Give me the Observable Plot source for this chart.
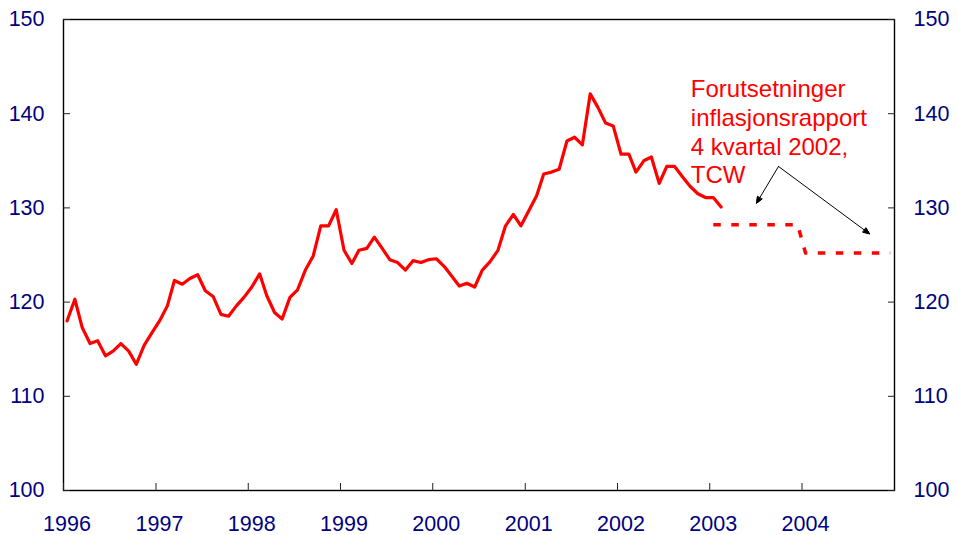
<!DOCTYPE html>
<html>
<head>
<meta charset="utf-8">
<script src="https://cdn.jsdelivr.net/npm/d3@7"></script>
<script src="https://cdn.jsdelivr.net/npm/@observablehq/plot@0.6"></script>
<style>
  html, body { margin: 0; padding: 0; background: #fff; }
  #chart { width: 957px; height: 535px; }
</style>
</head>
<body>
<div id="chart"></div>
<script>
// Monthly TCW index, Jan 1996 – Feb 2003
const startYear = 1996;
const tcw = [
  118.0, 120.3, 117.3, 115.6, 115.9, 114.3, 114.8, 115.6, 114.8, 113.4, 115.4, 116.7,
  118.0, 119.6, 122.3, 121.9, 122.5, 122.9, 121.2, 120.6, 118.7, 118.5, 119.6, 120.5,
  121.6, 123.0, 120.7, 118.9, 118.2, 120.5, 121.3, 123.4, 124.9, 128.1, 128.1, 129.8,
  125.5, 124.1, 125.5, 125.7, 126.9, 125.7, 124.5, 124.2, 123.4, 124.4, 124.2, 124.5,
  124.6, 123.8, 122.8, 121.7, 122.0, 121.6, 123.4, 124.3, 125.5, 128.1, 129.3, 128.1,
  129.7, 131.3, 133.6, 133.8, 134.1, 137.1, 137.5, 136.7, 142.1, 140.7, 139.0, 138.7,
  135.7, 135.7, 133.8, 135.0, 135.4, 132.6, 134.4, 134.4, 133.3, 132.3, 131.5, 131.1,
  131.1, 130.1
];
// Assumptions, Inflation report 4/2002: Jan 2003 – Dec 2004
const forecastStartYear = 2003;
const forecast = [
  128.2, 128.2, 128.2, 128.2, 128.2, 128.2, 128.2, 128.2, 128.2, 128.2, 128.2, 128.2,
  125.2, 125.2, 125.2, 125.2, 125.2, 125.2, 125.2, 125.2, 125.2, 125.2, 125.2, 125.2
];
const yearTicks = [1996, 1997, 1998, 1999, 2000, 2001, 2002, 2003, 2004];
const yTicks = [100, 110, 120, 130, 140, 150];
const annotationLines = ["Forutsetninger", "inflasjonsrapport", "4 kvartal 2002,", "TCW"];
const annotationAt = {date: [2002, 9, 18], value: 143.95};
const arrowFrom = {date: [2003, 8, 30], value: 134.4};
const arrowTargets = [
  {date: [2003, 6, 5], value: 130.5},
  {date: [2004, 8, 24], value: 127.25}
];

const monthDate = (y0, i) => new Date(Date.UTC(y0 + Math.floor(i / 12), i % 12, 15));
const toDate = a => new Date(Date.UTC(a[0], a[1], a[2]));
const actual = tcw.map((v, i) => ({date: monthDate(startYear, i), value: v}));
const fc = forecast.map((v, i) => ({date: monthDate(forecastStartYear, i), value: v}));
const arrows = arrowTargets.map(t => ({
  x1: toDate(arrowFrom.date), y1: arrowFrom.value, x2: toDate(t.date), y2: t.value
}));
const navy = "#000080";
const tickDates = yearTicks.map(y => new Date(Date.UTC(y, 0, 1)));

const chart = Plot.plot({
  width: 957,
  height: 535,
  marginLeft: 63,
  marginRight: 63,
  marginTop: 19,
  marginBottom: 45,
  style: {fontFamily: "Arial, 'Liberation Sans', sans-serif", fontSize: "21.5px", background: "white", overflow: "visible"},
  x: {type: "utc", domain: [new Date(Date.UTC(1996, 0, 1)), new Date(Date.UTC(2005, 0, 1))]},
  y: {domain: [100, 150]},
  marks: [
    Plot.frame({stroke: "black", strokeWidth: 1.4}),
    Plot.axisX({anchor: "bottom", ticks: tickDates, text: null, tickSize: -7, stroke: "#222"}),
    Plot.axisX({anchor: "bottom", ticks: tickDates, tickFormat: d3.utcFormat("%Y"), tickSize: 0, tickPadding: 25, dx: 3.5, fill: navy, label: null}),
    Plot.axisY({anchor: "left", ticks: yTicks, text: null, tickSize: -7, stroke: "#222"}),
    Plot.axisY({anchor: "right", ticks: yTicks, text: null, tickSize: -7, stroke: "#222"}),
    Plot.axisY({anchor: "left", ticks: yTicks, tickSize: 0, tickPadding: 19, fill: navy, label: null}),
    Plot.axisY({anchor: "right", ticks: yTicks, tickSize: 0, tickPadding: 19, fill: navy, label: null}),
    Plot.line(actual, {x: "date", y: "value", stroke: "#ff0000", strokeWidth: 3.2, strokeLinejoin: "round"}),
    Plot.line(fc, {x: "date", y: "value", stroke: "#ff0000", strokeWidth: 3.5, strokeLinecap: "butt", strokeDasharray: "7.5,10.5"}),
    Plot.arrow(arrows, {x1: "x1", y1: "y1", x2: "x2", y2: "y2", stroke: "black", strokeWidth: 1, headLength: 10, headAngle: 45, className: "ann-arrow"}),
    Plot.text([annotationLines.join("\n")], {
      x: toDate(annotationAt.date), y: annotationAt.value, text: d => d,
      textAnchor: "start", lineAnchor: "top", lineHeight: 1.2,
      fill: "#ff0000", fontSize: 24
    })
  ]
});
// fill the arrowheads (solid triangles as in the reference)
d3.select(chart).selectAll("g.ann-arrow path, g[aria-label='arrow'] path").each(function() {
  const d = this.getAttribute("d") || "";
  const nums = (d.match(/-?\d*\.?\d+(?:e-?\d+)?/g) || []).map(Number);
  if (nums.length < 6) return;
  const n = nums.slice(-6);
  d3.select(this.parentNode).append("path")
    .attr("d", `M${n[0]},${n[1]}L${n[2]},${n[3]}L${n[4]},${n[5]}Z`)
    .attr("fill", "black").attr("stroke", "black").attr("stroke-width", 1);
});
document.getElementById("chart").appendChild(chart);
</script>
</body>
</html>
